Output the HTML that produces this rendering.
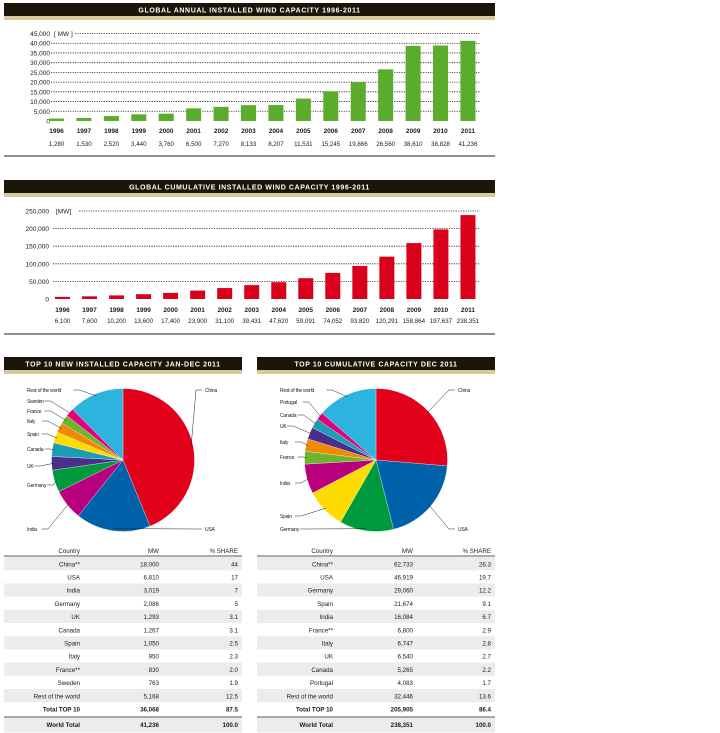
<!DOCTYPE html>
<html><head><meta charset="utf-8">
<style>
body{margin:0;background:#fff;width:720px;height:733px;overflow:hidden;font-family:"Liberation Sans",sans-serif}
svg{display:block}
text{font-family:"Liberation Sans",sans-serif}
</style></head>
<body>
<svg id="s" width="720" height="733" viewBox="0 0 720 733" xmlns="http://www.w3.org/2000/svg"></svg>
<script>
const years=["1996","1997","1998","1999","2000","2001","2002","2003","2004","2005","2006","2007","2008","2009","2010","2011"];
const annualValues=[1280,1530,2520,3440,3760,6500,7270,8133,8207,11531,15245,19866,26560,38610,38828,41236];
const annualLabels=["1,280","1,530","2,520","3,440","3,760","6,500","7,270","8,133","8,207","11,531","15,245","19,866","26,560","38,610","38,828","41,236"];
const annualTicks=[0,5000,10000,15000,20000,25000,30000,35000,40000,45000];
const cumValues=[6100,7600,10200,13600,17400,23900,31100,39431,47620,59091,74052,93820,120291,158864,197637,238351];
const cumLabels=["6,100","7,600","10,200","13,600","17,400","23,900","31,100","39,431","47,620","59,091","74,052","93,820","120,291","158,864","197,637","238,351"];
const cumTicks=[0,50000,100000,150000,200000,250000];
const newCountries=["China","USA","India","Germany","UK","Canada","Spain","Italy","France","Sweden","Rest of the world"];
const newShares=[44,17,7,5,3.1,3.1,2.5,2.3,2.0,1.9,12.5];
const newMW=["18,000","6,810","3,019","2,086","1,293","1,267","1,050","950","830","763","5,168"];
const cumCountries=["China","USA","Germany","Spain","India","France","Italy","UK","Canada","Portugal","Rest of the world"];
const cumShares=[26.3,19.7,12.2,9.1,6.7,2.9,2.8,2.7,2.2,1.7,13.6];
const cumMW=["62,733","46,919","29,060","21,674","16,084","6,800","6,747","6,540","5,265","4,083","32,446"];

const NS="http://www.w3.org/2000/svg";
const svg=document.getElementById('s');
function el(t,a,p){const e=document.createElementNS(NS,t);for(const k in a)e.setAttribute(k,a[k]);(p||svg).appendChild(e);return e;}
function txt(x,y,s,size,anchor,extra,p){const e=el('text',Object.assign({x:x,y:y,'font-size':size,'text-anchor':anchor||'start',fill:'#1a1a1a'},extra||{}),p);e.textContent=s;return e;}
function fmt(n){return n.toLocaleString('en-US');}
const colors={"China":"#e2001a","USA":"#0061ab","India":"#b8007f","Germany":"#009a3e","UK":"#4b2d8c","Canada":"#1b9db5","Spain":"#ffdc00","Italy":"#f18a00","France":"#6cb52d","Sweden":"#e4007d","Portugal":"#e4007d","Rest of the world":"#2cb4df"};

function titleBar(x,w,y,label,name){
  const g=el('g',{});
  
  
  el('rect',{x:x,y:y,width:w,height:13,fill:'#1c150a'},g);
  el('rect',{x:x,y:y+13,width:w,height:4,fill:'#d9c99a'},g);
  txt(x+w/2,y+9.5,label,7,'middle',{fill:'#fff','font-weight':'bold','letter-spacing':'0.6'},g);
}

function barChart(cfg){
  const g=el('g',{});
  
  
  const y=v=>cfg.y0-(v/cfg.max)*(cfg.y0-cfg.yTop);
  const xc=i=>cfg.x0+i*cfg.step;
  cfg.ticks.forEach((t,i)=>{
    const yy=y(t);
    const lab=txt(cfg.tickX,yy+2.5,fmt(t),6.5,'end',{},g);
    
    
    if(t>0){
      const sx=(i===cfg.ticks.length-1)?cfg.mwEnd:cfg.gridStart;
      const l=el('line',{x1:sx,y1:yy,x2:480,y2:yy,stroke:'#222','stroke-width':0.8,'stroke-dasharray':'1.2,1.2'},g);
      
      
    }
  });
  const mw=txt(cfg.gridStart+3,y(cfg.max)+2.5,cfg.mwText,6.5,'start',{},g);
  
  
  cfg.values.forEach((v,i)=>{
    const r=el('rect',{x:xc(i)-7.5,y:y(v),width:15,height:cfg.y0-y(v),fill:cfg.color},g);
    
    
    const t1=txt(xc(i),cfg.yearY,years[i],6.5,'middle',{'font-weight':'bold'},g);
    
    
    const t2=txt(xc(i),cfg.valY,cfg.labels[i],6.2,'middle',{},g);
    
    
  });
  el('line',{x1:4,y1:cfg.bottom,x2:495,y2:cfg.bottom,stroke:'#222','stroke-width':1},g);
}

titleBar(4,491,3,'GLOBAL ANNUAL INSTALLED WIND CAPACITY 1996-2011','annual-chart-title');
barChart({name:'annual-bar-chart',values:annualValues,labels:annualLabels,ticks:annualTicks,max:45000,y0:121,yTop:33.5,x0:56.5,step:27.43,color:'#5bab2c',tickX:50,gridStart:51,mwEnd:75,mwText:'[ MW ]',yearY:133,valY:146,bottom:156});
titleBar(4,491,180,'GLOBAL CUMULATIVE INSTALLED WIND CAPACITY 1996-2011','cumulative-chart-title');
barChart({name:'cumulative-bar-chart',values:cumValues,labels:cumLabels,ticks:cumTicks,max:250000,y0:299,yTop:211,x0:62.5,step:27.03,color:'#d9001b',tickX:49,gridStart:53,mwEnd:79,mwText:'[MW]',yearY:312,valY:323,bottom:334});

titleBar(4,238,357,'TOP 10 NEW INSTALLED CAPACITY JAN-DEC 2011','new-capacity-pie-title');
titleBar(257,238,357,'TOP 10 CUMULATIVE CAPACITY DEC 2011','cumulative-capacity-pie-title');

function pie(cfg){
  const g=el('g',{});
  
  
  const tot=cfg.shares.reduce((a,b)=>a+b,0);
  let a=0;
  cfg.shares.forEach((s,i)=>{
    const a0=a/tot*2*Math.PI, a1=(a+s)/tot*2*Math.PI; a+=s;
    const p=(t,r)=>[cfg.cx+r*Math.sin(t),cfg.cy-r*Math.cos(t)];
    const [x0,y0]=p(a0,cfg.r),[x1,y1]=p(a1,cfg.r);
    const large=(a1-a0)>Math.PI?1:0;
    const path=el('path',{d:`M${cfg.cx},${cfg.cy}L${x0},${y0}A${cfg.r},${cfg.r} 0 ${large} 1 ${x1},${y1}Z`,fill:colors[cfg.countries[i]],stroke:'#fff','stroke-width':0.3},g);
    
    
    const lp=cfg.labelPos[i];
    const am=(a0+a1)/2;
    const [ex,ey]=p(am,cfg.r*0.97);
    const right=lp[0]>cfg.cx;
    const lx=right?lp[0]-3:lp[0]+(cfg.countries[i].length*2.6)+2;
    el('line',{x1:lx,y1:lp[1]-2,x2:lx+(right?-6:6),y2:lp[1]-2,stroke:'#222','stroke-width':0.5},g);
    el('line',{x1:lx+(right?-6:6),y1:lp[1]-2,x2:ex,y2:ey,stroke:'#222','stroke-width':0.5},g);
    const t=txt(lp[0],lp[1],cfg.countries[i]==='Rest of the world'?'Rest of the world':cfg.countries[i],5,'start',{'letter-spacing':'-0.2'},g);
    
    
  });
}
pie({name:'new-capacity-pie',cx:123,cy:460,r:71.5,countries:newCountries,shares:newShares,
 labelPos:[[205,392],[205,531],[27,531],[27,487],[27,468],[27,451],[27,436],[27,423],[27,413],[27,403],[27,392]]});
pie({name:'cumulative-capacity-pie',cx:376,cy:460,r:71.5,countries:cumCountries,shares:cumShares,
 labelPos:[[458,392],[458,531],[280,531],[280,518],[280,485],[280,459],[280,444],[280,428],[280,417],[280,404],[280,392]]});

function table(cfg){
  const g=el('g',{});
  
  
  const x=cfg.x,w=238;
  txt(cfg.c1,553,'Country',6.2,'end',{},g);
  txt(cfg.c2,553,'MW',6.2,'end',{},g);
  txt(cfg.c3,553,'% SHARE',6.2,'end',{},g);
  el('line',{x1:x,y1:556,x2:x+w,y2:556,stroke:'#222','stroke-width':0.8},g);
  const rows=cfg.countries.map((c,i)=>[cfg.names[i],cfg.mw[i],String(cfg.shares[i])]);
  rows.push(['Total TOP 10',cfg.total[0],cfg.total[1]]);
  rows.forEach((r,i)=>{
    const yy=557+i*13.2;
    if(i%2===0 && i<11) el('rect',{x:x,y:yy,width:w,height:13.2,fill:'#ececec'},g);
    const bold=i===11?{'font-weight':'bold'}:{};
    const row=el('g',{},g);
    
    
    txt(cfg.c1,yy+9.3,r[0],6.2,'end',bold,row);
    txt(cfg.c2,yy+9.3,r[1],6.2,'end',bold,row);
    txt(cfg.c3,yy+9.3,r[2],6.2,'end',bold,row);
  });
  el('line',{x1:x,y1:717,x2:x+w,y2:717,stroke:'#222','stroke-width':0.8},g);
  el('rect',{x:x,y:717.5,width:w,height:15,fill:'#ececec'},g);
  txt(cfg.c1,727,'World Total',6.2,'end',{'font-weight':'bold'},g);
  txt(cfg.c2,727,cfg.world,6.2,'end',{'font-weight':'bold'},g);
  txt(cfg.c3,727,'100.0',6.2,'end',{'font-weight':'bold'},g);
}
table({name:'new-capacity-table',x:4,c1:80,c2:159,c3:238,countries:newCountries,
 names:["China**","USA","India","Germany","UK","Canada","Spain","Italy","France**","Sweden","Rest of the world"],
 mw:newMW,shares:["44","17","7","5","3.1","3.1","2.5","2.3","2.0","1.9","12.5"],total:["36,068","87.5"],world:"41,236"});
table({name:'cumulative-capacity-table',x:257,c1:333,c2:413,c3:491,countries:cumCountries,
 names:["China**","USA","Germany","Spain","India","France**","Italy","UK","Canada","Portugal","Rest of the world"],
 mw:cumMW,shares:["26.3","19.7","12.2","9.1","6.7","2.9","2.8","2.7","2.2","1.7","13.6"],total:["205,905","86.4"],world:"238,351"});
</script>
</body></html>
